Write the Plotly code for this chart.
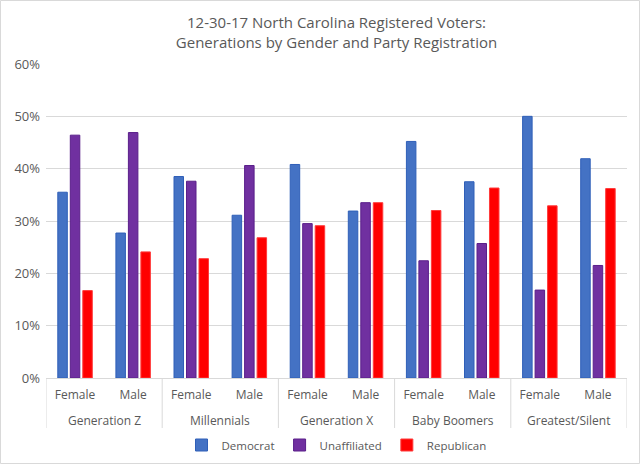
import plotly.graph_objects as go

generations = ["Generation Z", "Millennials", "Generation X", "Baby Boomers", "Greatest/Silent"]
genders = ["Female", "Male"]

democrat = [35.5, 27.7, 38.5, 31.1, 40.8, 31.9, 45.2, 37.5, 50.0, 41.9]
unaffiliated = [46.4, 46.9, 37.6, 40.6, 29.5, 33.5, 22.4, 25.7, 16.8, 21.5]
republican = [16.7, 24.1, 22.8, 26.8, 29.1, 33.5, 32.0, 36.3, 32.9, 36.2]

tick_vals = [0, 10, 20, 30, 40, 50, 60]
tick_text = ["0%", "10%", "20%", "30%", "40%", "50%", "60%"]

x_inner = [s for _ in generations for s in genders]
x_pos = list(range(len(x_inner)))
n_per_group = len(genders)

font_family = "Open Sans, Liberation Sans, sans-serif"
label_color = "#595959"
grid_color = "#d9d9d9"

W, H = 640, 464
ML, MR, MT, MB = 46, 13, 64, 86
plot_h = H - MT - MB

fig = go.Figure()
for name, vals, color, line in [
    ("Democrat", democrat, "#4472C4", "#2f5fb8"),
    ("Unaffiliated", unaffiliated, "#7030A0", "#5a1f8a"),
    ("Republican", republican, "#FF0000", "#ff3b3b"),
]:
    fig.add_trace(go.Bar(
        x=x_pos, y=vals, name=name,
        marker=dict(color=color, line=dict(color=line, width=1)),
        hovertext=x_inner,
    ))

fig.update_layout(
    width=W, height=H,
    paper_bgcolor="white", plot_bgcolor="white",
    margin=dict(l=ML, r=MR, t=MT, b=MB, autoexpand=False),
    barmode="group", bargap=0.355, bargroupgap=0.24,
    font=dict(family=font_family, size=12, color=label_color),
    title=dict(
        text="12-30-17 North Carolina Registered Voters:<br>Generations by Gender and Party Registration",
        x=0.5, xanchor="center", xref="paper", yref="container", y=1 - 28 / H, yanchor="top",
        font=dict(family=font_family, size=15, color=label_color),
    ),
    legend=dict(orientation="h", x=0.5, xanchor="center", y=-(445 - (H - MB)) / plot_h,
                yanchor="middle", font=dict(size=11.5, color=label_color),
                itemwidth=30, traceorder="normal"),
    showlegend=True,
)
fig.update_yaxes(range=[0, 60], tickvals=tick_vals, ticktext=tick_text,
                 gridcolor=grid_color, gridwidth=1, zeroline=False, automargin=False,
                 showline=False, ticks="", ticklabelstandoff=5,
                 tickfont=dict(size=13, color=label_color))
fig.update_xaxes(range=[-0.5, len(x_inner) - 0.5], tickvals=x_pos, ticktext=x_inner,
                 showline=True, linecolor=grid_color, showgrid=False, zeroline=False,
                 ticks="", automargin=False, ticklabelstandoff=6,
                 tickfont=dict(size=12, color=label_color))

# group labels and dividers of the two-level category axis
div_y = -(428 - (H - MB)) / plot_h
grp_y = -(420 - (H - MB)) / plot_h
for gi, g in enumerate(generations):
    start = gi * n_per_group - 0.5
    end = start + n_per_group
    fig.add_annotation(x=(start + end) / 2, y=grp_y, xref="x", yref="paper", text=g,
                       showarrow=False, yanchor="middle",
                       font=dict(size=12, color=label_color))
    fig.add_shape(type="line", xref="x", yref="paper", x0=start, x1=start, y0=0, y1=div_y,
                  line=dict(color=grid_color, width=1))
fig.add_shape(type="line", xref="x", yref="paper", x0=len(x_inner) - 0.5, x1=len(x_inner) - 0.5,
              y0=0, y1=div_y, line=dict(color=grid_color, width=1))

# chart border
pw = W - ML - MR
fig.add_shape(type="rect", xref="paper", yref="paper",
              x0=(0.5 - ML) / pw, x1=(W - 0.5 - ML) / pw,
              y0=-(H - 0.5 - (H - MB)) / plot_h, y1=(H - MB - 0.5) / plot_h,
              line=dict(color=grid_color, width=1))

fig.write_html("out.html", config={"displayModeBar": False},
               post_script="document.body.style.margin='0px';")
